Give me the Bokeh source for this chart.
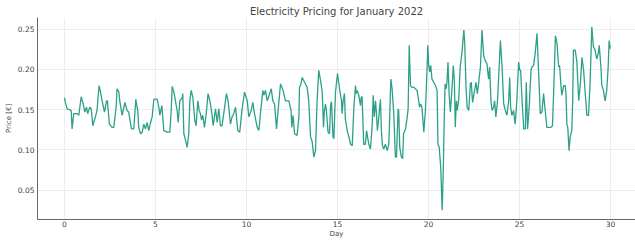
from bokeh.plotting import figure
from bokeh.models import FixedTicker, NumeralTickFormatter, Range1d
from bokeh.embed import file_html
from bokeh.resources import INLINE

# Day of month (fractional) and price in EUR
days = [
    0.00, 0.05, 0.15, 0.37, 0.42, 0.51, 0.70, 0.79, 0.92, 1.03, 1.12, 1.21, 1.28, 1.39, 1.47, 1.56,
    1.70, 1.79, 1.90, 1.98, 2.07, 2.20, 2.31, 2.36, 2.47, 2.62, 2.71, 2.84, 2.89, 2.99, 3.04, 3.17,
    3.32, 3.44, 3.53, 3.68, 3.81, 3.92, 3.99, 4.03, 4.08, 4.18, 4.27, 4.36, 4.45, 4.54, 4.63, 4.73,
    4.82, 4.91, 5.09, 5.20, 5.24, 5.35, 5.46, 5.64, 5.79, 5.86, 5.92, 6.01, 6.19, 6.25, 6.34, 6.47,
    6.50, 6.56, 6.65, 6.74, 6.83, 6.89, 6.96, 7.05, 7.16, 7.23, 7.33, 7.40, 7.47, 7.53, 7.60, 7.69,
    7.78, 7.89, 7.99, 8.10, 8.17, 8.30, 8.39, 8.48, 8.57, 8.66, 8.90, 8.99, 9.12, 9.21, 9.30, 9.40,
    9.52, 9.63, 9.74, 9.89, 10.04, 10.13, 10.26, 10.35, 10.44, 10.59, 10.68, 10.81, 10.90, 10.95,
    11.04, 11.14, 11.28, 11.36, 11.45, 11.54, 11.65, 11.72, 11.87, 12.01, 12.14, 12.33, 12.45, 12.49,
    12.56, 12.64, 12.78, 12.88, 12.91, 12.97, 13.06, 13.19, 13.33, 13.42, 13.52, 13.61, 13.70, 13.79,
    13.88, 13.97,
    14.07, 14.16, 14.23, 14.28, 14.34, 14.39, 14.48, 14.56, 14.62, 14.67, 14.75, 14.80, 14.89, 15.00,
    15.11, 15.22, 15.25, 15.31, 15.38, 15.43, 15.49, 15.55, 15.63, 15.72, 15.81, 15.90, 15.99, 16.03,
    16.08, 16.17, 16.26, 16.31, 16.35, 16.44, 16.53, 16.60, 16.65, 16.72, 16.81, 16.90, 16.96, 17.02,
    17.09, 17.14, 17.19, 17.27, 17.36, 17.41, 17.47, 17.54, 17.63, 17.73, 17.82, 17.93, 18.00, 18.09,
    18.18, 18.24, 18.33, 18.36, 18.42, 18.51, 18.58, 18.63, 18.74, 18.83, 18.88, 18.94, 19.01, 19.06,
    19.19, 19.28, 19.37, 19.46, 19.51, 19.57, 19.64, 19.74, 19.83, 19.92, 19.96, 20.01, 20.07, 20.12,
    20.19, 20.29, 20.38, 20.47, 20.52, 20.59, 20.67, 20.75, 20.81, 20.86, 20.91, 20.97, 21.02, 21.07,
    21.13, 21.20, 21.29, 21.36, 21.42, 21.47, 21.53, 21.58, 21.66, 21.74, 21.85, 21.94, 21.99, 22.06,
    22.12, 22.21, 22.30, 22.35, 22.42, 22.50, 22.61, 22.68, 22.75, 22.85, 22.94, 23.03, 23.12, 23.21,
    23.30, 23.36, 23.43, 23.49, 23.58, 23.63, 23.70, 23.79, 23.88, 23.95, 24.04, 24.13, 24.22, 24.31,
    24.40, 24.46, 24.51, 24.58, 24.67, 24.76, 24.85, 24.95, 25.01, 25.06, 25.14, 25.23, 25.32, 25.37,
    25.44, 25.53, 25.63, 25.68, 25.77, 25.86, 25.96, 26.05, 26.14, 26.23, 26.32, 26.41, 26.50, 26.59,
    26.73, 26.81, 26.89, 26.97, 27.06, 27.15, 27.20, 27.28, 27.33, 27.42, 27.51, 27.55, 27.60, 27.65,
    27.72, 27.78, 27.87, 27.92, 27.96, 28.06, 28.15, 28.25, 28.34, 28.43, 28.52, 28.61, 28.70, 28.79,
    28.88, 28.97, 29.06, 29.15, 29.24, 29.33, 29.38, 29.47, 29.52, 29.61, 29.70, 29.79, 29.87, 29.92,
    29.98,
]

prices = [
    0.165, 0.159, 0.151, 0.149, 0.126, 0.145, 0.145, 0.143, 0.166, 0.157, 0.147, 0.153, 0.145, 0.153, 0.151, 0.130,
    0.141, 0.149, 0.180, 0.172, 0.161, 0.147, 0.161, 0.161, 0.132, 0.128, 0.128, 0.153, 0.176, 0.172, 0.161, 0.143,
    0.159, 0.149, 0.147, 0.126, 0.126, 0.163, 0.153, 0.149, 0.128, 0.120, 0.122, 0.132, 0.126, 0.134, 0.124, 0.134,
    0.141, 0.163, 0.163, 0.151, 0.143, 0.155, 0.124, 0.122, 0.122, 0.147, 0.179, 0.172, 0.149, 0.134, 0.161, 0.165,
    0.170, 0.120, 0.112, 0.103, 0.120, 0.161, 0.174, 0.166, 0.137, 0.130, 0.161, 0.149, 0.145, 0.137, 0.143, 0.128,
    0.143, 0.170, 0.161, 0.145, 0.130, 0.151, 0.134, 0.151, 0.130, 0.130, 0.170, 0.161, 0.132, 0.141, 0.145, 0.153,
    0.124, 0.122, 0.147, 0.172, 0.161, 0.141, 0.149, 0.159, 0.145, 0.128, 0.124, 0.155, 0.174, 0.168,
    0.174, 0.161, 0.170, 0.176, 0.161, 0.157, 0.126, 0.145, 0.182, 0.174, 0.161, 0.161, 0.149, 0.128,
    0.143, 0.120, 0.118, 0.141, 0.178, 0.180, 0.190, 0.184, 0.178, 0.161, 0.116, 0.110, 0.091, 0.099,
    0.161, 0.199,
    0.186, 0.172, 0.128, 0.149, 0.157, 0.149, 0.122, 0.120, 0.155, 0.160, 0.116, 0.114, 0.172, 0.195,
    0.176, 0.161, 0.145, 0.161, 0.170, 0.139, 0.130, 0.122, 0.116, 0.107, 0.105, 0.153, 0.180, 0.170,
    0.174, 0.168, 0.155, 0.166, 0.166, 0.107, 0.107, 0.124, 0.116, 0.107, 0.101, 0.128, 0.168, 0.141,
    0.161, 0.145, 0.124, 0.141, 0.163, 0.124, 0.105, 0.101, 0.107, 0.099, 0.107, 0.188, 0.176, 0.145,
    0.091, 0.091, 0.151, 0.149, 0.103, 0.091, 0.089, 0.120, 0.126, 0.141, 0.151, 0.230, 0.180, 0.178,
    0.178, 0.176, 0.174, 0.161, 0.153, 0.157, 0.153, 0.122, 0.149, 0.200, 0.230, 0.205, 0.197, 0.205,
    0.188, 0.184, 0.180, 0.174, 0.107, 0.103, 0.078, 0.025, 0.074, 0.136, 0.182, 0.176, 0.186, 0.209,
    0.170, 0.147, 0.176, 0.205, 0.186, 0.128, 0.161, 0.149, 0.163, 0.203, 0.224, 0.249, 0.232, 0.178,
    0.153, 0.149, 0.182, 0.184, 0.159, 0.170, 0.184, 0.170, 0.182, 0.203, 0.249, 0.217, 0.211, 0.207,
    0.188, 0.203, 0.161, 0.149, 0.153, 0.161, 0.141, 0.161, 0.203, 0.236, 0.203, 0.157, 0.149, 0.143,
    0.161, 0.190, 0.153, 0.143, 0.149, 0.132, 0.161, 0.209, 0.199, 0.199, 0.161, 0.126, 0.126, 0.184,
    0.126, 0.153, 0.199, 0.203, 0.205, 0.220, 0.245, 0.195, 0.145, 0.147, 0.170, 0.149, 0.128, 0.128,
    0.128, 0.130, 0.182, 0.242, 0.232, 0.203, 0.205, 0.178, 0.168, 0.180, 0.180, 0.170, 0.132, 0.128,
    0.099, 0.116, 0.124, 0.161, 0.224, 0.224, 0.209, 0.161, 0.182, 0.215, 0.199, 0.170, 0.143, 0.143,
    0.186, 0.253, 0.228, 0.224, 0.213, 0.220, 0.230, 0.203, 0.180, 0.174, 0.161, 0.174, 0.203, 0.236,
    0.226,
]

x_ticks = [0, 5, 10, 15, 20, 25, 30]
y_ticks = [0.05, 0.10, 0.15, 0.20, 0.25]

title_text = "Electricity Pricing for January 2022"
x_label = "Day"
y_label = "Price [€]"

FONT = "DejaVu Sans"
TEXT = "#444444"

p = figure(
    width=635, height=244,
    output_backend="svg", toolbar_location=None,
    x_range=Range1d(-1.48, 31.37), y_range=Range1d(0.0134, 0.2646),
    min_border_left=37, min_border_right=0, min_border_top=17, min_border_bottom=25,
)
p.outline_line_color = None
p.background_fill_color = "white"
p.border_fill_color = "white"

p.title.text = title_text
p.title.align = "center"
p.title.text_font = FONT
p.title.text_font_size = "10px"
p.title.text_font_style = "normal"
p.title.text_color = TEXT
p.title.standoff = 2

p.line(days, prices, line_color="#2ca088", line_width=1.3)

for ax in (p.xaxis[0], p.yaxis[0]):
    ax.axis_line_color = "#666666"
    ax.axis_line_width = 1
    ax.major_tick_out = 0
    ax.major_tick_in = 0
    ax.minor_tick_out = 0
    ax.minor_tick_in = 0
    ax.major_label_text_font = FONT
    ax.major_label_text_font_size = "7.5px"
    ax.major_label_text_color = TEXT
    ax.axis_label_text_font = FONT
    ax.axis_label_text_font_size = "7px"
    ax.axis_label_text_font_style = "normal"
    ax.axis_label_text_color = TEXT

p.yaxis.major_label_standoff = 3
p.yaxis.axis_label_standoff = 2
p.xaxis.major_label_standoff = 1
p.xaxis.axis_label_standoff = 0

p.xaxis.ticker = FixedTicker(ticks=x_ticks)
p.yaxis.ticker = FixedTicker(ticks=y_ticks)
p.yaxis.formatter = NumeralTickFormatter(format="0.00")
p.xaxis.axis_label = x_label
p.yaxis.axis_label = y_label

p.grid.grid_line_color = "#e8e8e8"
p.grid.grid_line_width = 0.8

open("out.html", "w").write(file_html(p, INLINE))
